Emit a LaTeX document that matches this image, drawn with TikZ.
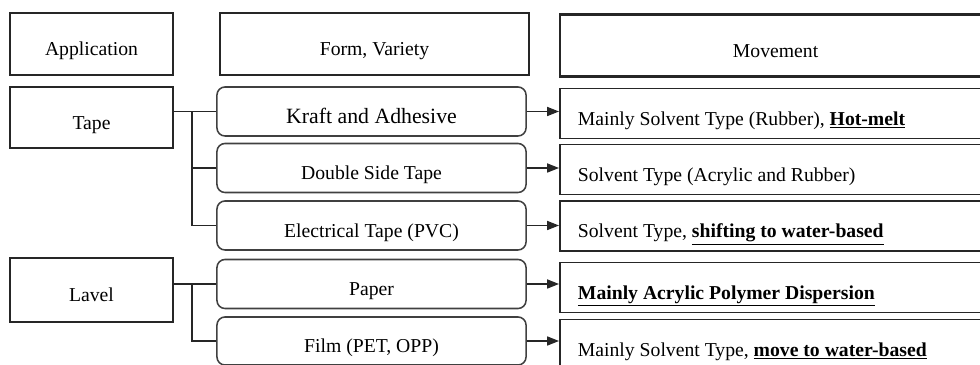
\documentclass[tikz,border=0pt]{standalone}
\usepackage{fontspec}
\setmainfont{Liberation Serif}
\usetikzlibrary{arrows.meta}
\begin{document}
\begin{tikzpicture}[x=0.025cm,y=-0.025cm]
    \tikzstyle{every node}=[font=\fontsize{14}{16}\selectfont, text height=18.5pt, text depth=2pt]
    \tikzstyle{head}=[draw=black!85, line width=1.5pt, minimum height=15.5mm]
    \tikzstyle{usebox}=[draw=black!85, line width=1.2pt, minimum width=40.75mm]
    \tikzstyle{formbox}=[draw=black!75, line width=1.1pt, rounded corners=2mm, minimum width=77.25mm, minimum height=12.25mm]
    \tikzstyle{movebox}=[draw=black!85, line width=1.3pt, anchor=west, align=flush left, inner xsep=4.5mm, text width=98.75mm, minimum height=12.5mm]
    \tikzstyle{link}=[black!85, line width=0.9pt]
    \tikzstyle{feed}=[link, -{Triangle[length=8.5pt,width=6.5pt]}]
    \clip (0,0) rectangle (980,365);
    % column heads
    \node[head, minimum width=40.75mm] (apphead) at (91.5,44) {Application};
    \node[head, minimum width=77.25mm] (formhead) at (374.5,44) {Form, Variety};
    \node[head, minimum width=107.75mm, anchor=west] (movehead) at (559,45.5) {Movement};
    % applications
    \node[usebox, minimum height=15.25mm] (tape) at (91.5,117.5) {Tape};
    \node[usebox, minimum height=16mm] (lavel) at (91.5,290) {Lavel};
    % forms
    \node[formbox, font=\fontsize{15.5}{18}\selectfont] (kraft) at (371.5,111.5) {Kraft and Adhesive};
    \node[formbox] (dbl) at (371.5,168) {Double Side Tape};
    \node[formbox] (elec) at (371.5,225.5) {Electrical Tape (PVC)};
    \node[formbox] (paper) at (371.5,284) {Paper};
    \node[formbox, minimum height=12mm] (film) at (371.5,341) {Film (PET, OPP)};
    % movements
    \node[movebox] (mkraft) at (559,113.5) {Mainly Solvent Type (Rubber), \underline{\textbf{Hot-melt}}};
    \node[movebox] (mdbl) at (559,169.5) {Solvent Type (Acrylic and Rubber)};
    \node[movebox] (melec) at (559,226) {Solvent Type, \underline{\textbf{shifting to water-based}}};
    \node[movebox] (mpaper) at (559,287.5) {\underline{\textbf{Mainly Acrylic Polymer Dispersion}}};
    \node[movebox] (mfilm) at (559,344.5) {Mainly Solvent Type, \underline{\textbf{move to water-based}}};
    % forks
    \coordinate (tapefork) at (192,0);
    \coordinate (lavelfork) at (192,0);
    \draw[link] (tape.east |- kraft.west) -- (kraft.west);
    \draw[link] (tapefork |- kraft.west) |- (elec.west);
    \draw[link] (tapefork |- dbl.west) -- (dbl.west);
    \draw[link] (lavel.east |- paper.west) -- (paper.west);
    \draw[link] (lavelfork |- paper.west) |- (film.west);
    % arrows
    \foreach \f/\m in {kraft/mkraft, dbl/mdbl, elec/melec, paper/mpaper, film/mfilm}
      \draw[feed] (\f.east) -- (\f.east -| \m.west);
  \end{tikzpicture}
\end{document}
